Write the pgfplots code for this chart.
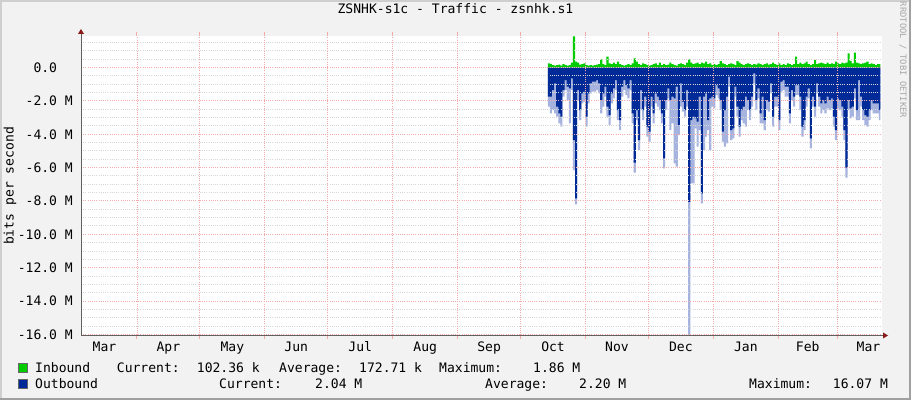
\documentclass[border=0pt]{standalone}
\usepackage{fontspec}
\setmainfont{DejaVu Sans Mono}
\usepackage{pgfplots}
\usepackage{pgfplotstable}
\pgfplotsset{compat=1.18}

\definecolor{rrdback}{HTML}{F2F2F2}
\definecolor{shadea}{HTML}{CFCFCF}
\definecolor{shadeb}{HTML}{A0A0A0}
\definecolor{inbound}{HTML}{00CC00}
\definecolor{outbound}{HTML}{002A97}
\definecolor{outpeak}{HTML}{A5B3DE}
\definecolor{mgrid}{HTML}{F2ABAB}
\definecolor{mingrid}{HTML}{D6D6D6}
\definecolor{axisgray}{HTML}{606060}
\definecolor{arrowred}{HTML}{8B1A1A}
\definecolor{watermark}{HTML}{A8A8A8}

\newcommand{\rrdfont}{\fontsize{13.1}{15}\selectfont}

% day: days since 1 Mar; values in Mbit/s (outbound negative)
\pgfplotstableread{
day   in    outavg  outmax
227   0.25  -1.75   -2.35
228   0.22  -1.75   -2.75
229   0.15  -1.35   -2.55
230   0.12  -0.95   -2.75
231   0.15  -2.35   -2.95
232   0.18  -2.75   -3.35
233   0.12  -2.95   -3.55
234   0.20  -1.35   -1.75
235   0.15  -0.75   -1.35
236   0.12  -1.15   -1.95
237   0.14  -1.25   -3.35
238   0.30  -0.65   -1.35
239   1.86  -4.35   -6.15
240   0.35  -7.85   -8.20
241   0.30  -1.35   -1.95
242   0.18  -2.55   -3.15
243   0.20  -1.55   -2.15
244   0.25  -1.45   -2.05
245   0.15  -2.95   -3.55
246   0.12  -1.55   -2.15
247   0.14  -0.95   -1.55
248   0.12  -0.85   -1.45
249   0.15  -0.85   -1.45
250   0.18  -0.75   -1.35
251   0.20  -0.95   -1.55
252   0.49  -1.95   -2.75
253   0.20  -1.55   -2.35
254   0.15  -1.15   -1.75
255   0.65  -2.35   -2.95
256   0.25  -2.85   -3.45
257   0.20  -1.55   -2.15
258   0.30  -1.25   -1.85
259   0.20  -0.75   -1.35
260   0.35  -2.55   -3.15
261   0.20  -3.15   -3.75
262   0.15  -1.15   -1.75
263   0.12  -0.75   -1.35
264   0.15  -1.05   -1.65
265   0.20  -1.25   -1.85
266   0.15  -0.75   -1.35
267   0.25  -2.75   -3.35
268   0.55  -5.70   -6.30
269   0.35  -2.55   -3.15
270   0.20  -4.35   -4.95
271   0.15  -1.35   -2.55
272   0.25  -2.55   -3.15
273   0.20  -1.75   -2.35
274   0.15  -3.55   -4.15
275   0.12  -3.85   -4.45
276   0.14  -1.75   -2.35
277   0.20  -2.75   -3.35
278   0.25  -1.55   -2.15
279   0.15  -1.75   -2.35
280   0.30  -1.95   -2.55
281   0.15  -2.75   -3.35
282   0.20  -5.45   -6.05
283   0.15  -1.95   -2.55
284   0.18  -1.25   -1.85
285   0.30  -1.95   -3.75
286   0.20  -1.75   -3.35
287   0.15  -1.85   -5.75
288   0.12  -1.15   -5.95
289   0.20  -3.45   -4.05
290   0.25  -0.95   -2.35
291   0.20  -2.05   -2.65
292   0.15  -2.55   -2.95
293   0.30  -1.35   -2.35
294   0.49  -8.05   -16.07
295   0.30  -3.15   -6.95
296   0.20  -2.95   -6.95
297   0.25  -3.05   -3.65
298   0.30  -3.25   -4.75
299   0.20  -1.75   -3.75
300   0.30  -7.55   -8.15
301   0.25  -1.75   -4.95
302   0.35  -1.55   -4.15
303   0.20  -3.15   -3.75
304   0.25  -1.85   -4.95
305   0.15  -1.75   -2.35
306   0.20  -1.85   -2.45
307   0.15  -1.05   -1.65
308   0.20  -1.25   -1.85
309   0.39  -1.95   -2.55
310   0.25  -3.85   -4.45
311   0.20  -2.55   -4.75
312   0.15  -1.75   -4.55
313   0.20  -0.55   -1.15
314   0.25  -3.75   -4.35
315   0.20  -3.65   -4.25
316   0.15  -1.15   -1.75
317   0.39  -2.35   -2.95
318   0.30  -3.55   -4.15
319   0.20  -2.55   -3.15
320   0.15  -2.35   -3.35
321   0.20  -1.75   -3.55
322   0.25  -1.95   -2.55
323   0.20  -2.55   -3.15
324   0.15  -1.75   -2.35
325   0.20  -0.35   -0.95
326   0.18  -1.95   -2.55
327   0.25  -1.25   -1.85
328   0.20  -2.75   -3.35
329   0.15  -1.75   -3.35
330   0.20  -3.15   -3.75
331   0.25  -1.95   -2.55
332   0.18  -2.05   -2.65
333   0.20  -0.95   -1.55
334   0.30  -2.95   -3.55
335   0.20  -1.75   -2.35
336   0.15  -1.75   -2.35
337   0.25  -3.15   -3.75
338   0.15  -0.85   -1.45
339   0.20  -0.75   -1.35
340   0.15  -1.15   -1.75
341   0.25  -1.15   -1.75
342   0.20  -2.75   -3.35
343   0.15  -1.35   -1.95
344   0.20  -1.75   -2.35
345   0.65  -1.05   -1.65
346   0.20  -1.05   -1.65
347   0.30  -1.75   -2.55
348   0.20  -3.55   -4.15
349   0.25  -3.15   -3.75
350   0.35  -1.75   -2.35
351   0.20  -1.25   -1.85
352   0.15  -4.25   -4.85
353   0.20  -1.75   -2.35
354   0.45  -2.35   -2.95
355   0.20  -0.95   -1.55
356   0.25  -1.75   -2.35
357   0.30  -2.15   -2.75
358   0.25  -1.95   -2.55
359   0.20  -2.15   -2.75
360   0.30  -1.75   -2.45
361   0.20  -1.95   -2.55
362   0.25  -1.85   -2.45
363   0.20  -2.95   -3.55
364   0.35  -3.75   -4.35
365   0.25  -1.85   -2.45
366   0.20  -1.95   -2.55
367   0.30  -2.35   -2.95
368   0.25  -3.75   -4.35
369   0.30  -6.00   -6.60
370   0.85  -1.95   -2.55
371   0.40  -2.45   -3.05
372   0.25  -2.35   -2.95
373   0.89  -1.25   -1.85
374   0.30  -2.55   -3.15
375   0.25  -0.75   -3.15
376   0.20  -1.75   -2.35
377   0.25  -2.55   -3.15
378   0.30  -2.85   -3.45
379   0.35  -2.95   -3.55
380   0.20  -2.55   -3.15
381   0.25  -1.95   -2.55
382   0.20  -2.15   -2.75
383   0.15  -2.15   -2.75
384   0.20  -2.15   -2.75
385   0.20  -2.55   -3.15
385.6 0.20  -2.55   -3.15
}\traffic

\begin{document}
\rrdfont
\begin{tikzpicture}
% canvas and shaded border
\fill[rrdback] (0,0) rectangle (911bp,400bp);
\fill[shadea] (0,398bp) rectangle (911bp,400bp);
\fill[shadea] (0,0) rectangle (2bp,400bp);
\fill[shadeb] (0,0) rectangle (911bp,2bp);
\fill[shadeb] (909bp,0) rectangle (911bp,400bp);

\begin{axis}[
    at={(81bp,64.5bp)}, anchor=south west,
    scale only axis,
    width=800.5bp, height=299bp,
    xmin=4.3, xmax=386.2,
    ymin=-16.07, ymax=1.86,
    axis background/.style={fill=white},
    axis line style={draw=none},
    axis on top,
    xtick={15.5,46,76.5,107,137.5,168.5,199,229.5,260,290.5,321.5,351,380},
    xticklabels={Mar,Apr,May,Jun,Jul,Aug,Sep,Oct,Nov,Dec,Jan,Feb,Mar},
    xtick style={draw=none},
    xticklabel style={anchor=base, yshift=-16.2bp, inner sep=0pt, font=\rrdfont},
    extra x ticks={31,61,92,122,153,184,214,245,275,306,337,365},
    extra x tick labels={},
    extra x tick style={grid=major, tick align=outside, major tick length=4bp,
        xtick style={draw=mgrid, line width=1bp}},
    ytick={-16,-14,...,0},
    yticklabels={-16.0 M,-14.0 M,-12.0 M,-10.0 M,-8.0 M,-6.0 M,-4.0 M,-2.0 M,0.0\hphantom{MM}},
    minor ytick={-15.5,-15,-14.5,-13.5,-13,-12.5,-11.5,-11,-10.5,-9.5,-9,-8.5,
        -7.5,-7,-6.5,-5.5,-5,-4.5,-3.5,-3,-2.5,-1.5,-1,-0.5,0.5,1,1.5},
    ytick style={draw=none},
    minor tick style={draw=none},
    yticklabel style={anchor=base east, xshift=-8bp, yshift=-5bp, inner sep=0pt, font=\rrdfont},
    ymajorgrids, yminorgrids,
    major grid style={mgrid, line width=0.9bp, dash pattern=on 1bp off 1.2bp},
    minor grid style={mingrid, line width=0.9bp, dash pattern=on 1bp off 1.2bp},
    title={ZSNHK-s1c - Traffic - zsnhk.s1},
    title style={at={(axis description cs:0.4678,1)}, anchor=base, yshift=17.5bp,
        inner sep=0pt, font=\rrdfont},
    ylabel={bits per second},
    ylabel style={at={(axis description cs:-0.0887,0.5)}, anchor=center,
        inner sep=0pt, font=\rrdfont},
]
\addplot[const plot, fill=inbound, draw=none] table[x=day, y=in] {\traffic} \closedcycle;
\addplot[const plot, fill=outpeak, draw=none] table[x=day, y=outmax] {\traffic} \closedcycle;
\addplot[const plot, fill=outbound, draw=none] table[x=day, y=outavg] {\traffic} \closedcycle;
\end{axis}

% axes with arrow heads
\draw[axisgray, line width=1bp] (81bp,64.5bp) -- (81bp,366bp);
\fill[arrowred] (78bp,366bp) -- (84bp,366bp) -- (81bp,371bp) -- cycle;
\draw[axisgray, line width=1bp] (81bp,64.5bp) -- (883bp,64.5bp);
\fill[arrowred] (883bp,61.5bp) -- (883bp,67.5bp) -- (888bp,64.5bp) -- cycle;

% watermark
\node[rotate=-90, inner sep=0pt, text=watermark, font=\fontsize{8.8}{10}\selectfont]
    at (903bp,340bp) {RRDTOOL / TOBI OETIKER};

% legend
\filldraw[fill=inbound, draw=black!60, line width=0.6bp] (18bp,28bp) rectangle (27.5bp,36.5bp);
\filldraw[fill=outbound, draw=black!60, line width=0.6bp] (18bp,12bp) rectangle (27.5bp,20.5bp);
\begin{scope}[every node/.style={anchor=base west, inner sep=0pt}]
\node at (35bp,27.3bp) {Inbound};
\node at (116.7bp,27.3bp) {Current:};
\node at (196.7bp,27.3bp) {102.36 k};
\node at (279bp,27.3bp) {Average:};
\node at (359bp,27.3bp) {172.71 k};
\node at (439bp,27.3bp) {Maximum:};
\node at (533bp,27.3bp) {1.86 M};
\node at (35bp,11.7bp) {Outbound};
\node at (219bp,11.7bp) {Current:};
\node at (315bp,11.7bp) {2.04 M};
\node at (485bp,11.7bp) {Average:};
\node at (579bp,11.7bp) {2.20 M};
\node at (749bp,11.7bp) {Maximum:};
\node at (832.7bp,11.7bp) {16.07 M};
\end{scope}
\end{tikzpicture}
\end{document}
